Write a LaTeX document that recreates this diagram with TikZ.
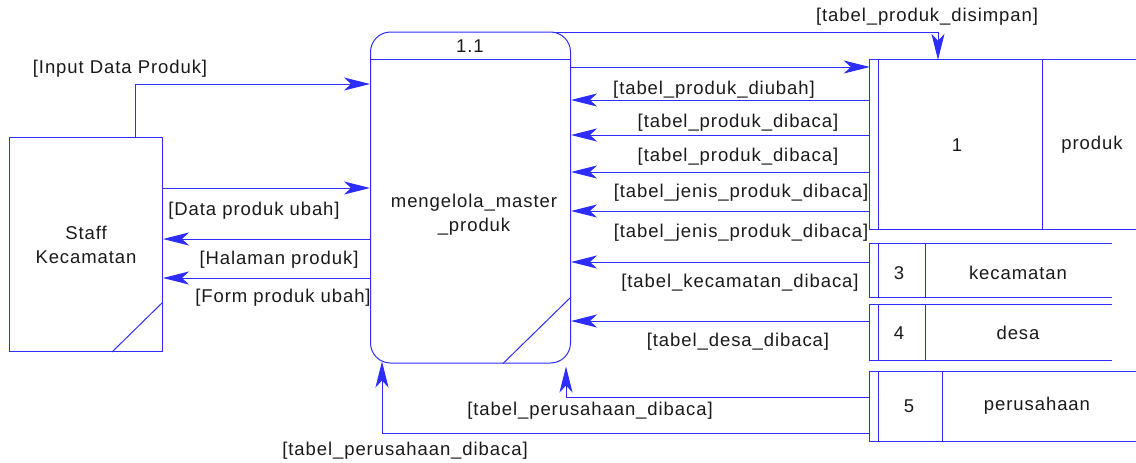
\documentclass[tikz,border=0pt]{standalone}
\usepackage{fontspec}
\setmainfont{Liberation Sans}[LetterSpace=5]
\usepackage{tikz}
\usetikzlibrary{arrows.meta,positioning,calc}

\definecolor{dfdblue}{RGB}{45,45,255}
\definecolor{dfdtext}{RGB}{26,26,26}

\tikzset{
    line/.style={draw=dfdblue, line width=1pt},
    flow/.style={line, -{Stealth[length=26pt, width=13pt, inset=7pt]}},
    lbl/.style={text=dfdtext, inner sep=0pt},
}

\begin{document}
\begin{tikzpicture}[x=1pt, y=-1pt, font=\fontsize{18.5}{24}\selectfont]
        \useasboundingbox (0,0) rectangle (1136,463);

        % External entity
        \node[line, minimum width=153, minimum height=214, align=center, text=dfdtext] (staff) at (86,244.5) {Staff\\Kecamatan};
        \draw[line] ($(staff.south east)+(-51,0)$) -- ($(staff.south east)+(0,-50)$);

        % Process
        \node[line, rounded corners=20, minimum width=200, minimum height=331] (proc) at (470.5,197.5) {};
        \draw[line] ($(proc.north west)+(0,27.5)$) -- ($(proc.north east)+(0,27.5)$);
        \node[lbl] (procid) at (470,46) {1.1};
        \node[lbl, align=center] (procname) at (474,215) {mengelola\_master\\\_produk};
        \draw[line] (proc.south -| 503,0) -- (proc.east |- 0,297);

        % Data stores
        \node[minimum width=266, minimum height=169] (prod) at (1003,144.5) {};
        \node[minimum width=242, minimum height=53] (kec) at (991,270.5) {};
        \node[minimum width=242, minimum height=55] (desa) at (991,332.5) {};
        \node[minimum width=266, minimum height=69] (per) at (1003,406.5) {};
        \foreach \s/\d in {prod/1042, kec/925, desa/925, per/942}
        {
        \draw[line] (\s.north east) -- (\s.north west) -- (\s.south west) -- (\s.south east);
        \draw[line] (\s.north west -| 878,0) -- (\s.south west -| 878,0);
        \draw[line] (\s.north -| \d,0) -- (\s.south -| \d,0);
        }
        \node[lbl] (prodid) at (957,145) {1};
        \node[lbl] (prodname) at (1092,145) {produk};
        \node[lbl] (kecid) at (899,273) {3};
        \node[lbl] (kecname) at (1018,273) {kecamatan};
        \node[lbl] (desaid) at (899,333) {4};
        \node[lbl] (desaname) at (1018,333) {desa};
        \node[lbl] (perid) at (909,406) {5};
        \node[lbl] (pername) at (1037,406) {perusahaan};

        % Flows with the staff
        \draw[flow] (staff.north -| 135,0) |- (proc.west |- 0,84);
        \draw[flow] (staff.east |- 0,188) -- (proc.west |- 0,188);
        \draw[flow] (proc.west |- 0,239) -- (staff.east |- 0,239);
        \draw[flow] (proc.west |- 0,278) -- (staff.east |- 0,278);
        \node[lbl] (tinput) at (120,69) {[Input Data Produk]};
        \node[lbl] (tubah) at (254,211) {[Data produk ubah]};
        \node[lbl] (thalaman) at (279,260) {[Halaman produk]};
        \node[lbl] (tform) at (283,298) {[Form produk ubah]};

        % Flows with the stores
        \draw[flow] ($(proc.north east)+(-17,1)$) -| (prod.north -| 938,0);
        \draw[flow] (proc.east |- 0,67) -- (prod.west |- 0,67);
        \foreach \y in {100,135,172,211}
        \draw[flow] (prod.west |- 0,\y) -- (proc.east |- 0,\y);
        \draw[flow] (kec.west |- 0,262) -- (proc.east |- 0,262);
        \draw[flow] (desa.west |- 0,321) -- (proc.east |- 0,321);
        \draw[flow] (per.west |- 0,397) -| ($(proc.south -| 566,0)+(0,3)$);
        \draw[flow] (per.west |- 0,433) -| ($(proc.south -| 382,0)+(0,-2)$);

        \node[lbl] (tdisimpan) at (927,17) {[tabel\_produk\_disimpan]};
        \node[lbl] (tdiubah) at (714,90) {[tabel\_produk\_diubah]};
        \node[lbl] (tdibaca) at (738,123) {[tabel\_produk\_dibaca]};
        \node[lbl] (tdibacab) at (738,157) {[tabel\_produk\_dibaca]};
        \node[lbl] (tjenis) at (741,193) {[tabel\_jenis\_produk\_dibaca]};
        \node[lbl] (tjenisb) at (741,233) {[tabel\_jenis\_produk\_dibaca]};
        \node[lbl] (tkec) at (740,283) {[tabel\_kecamatan\_dibaca]};
        \node[lbl] (tdesa) at (738,342) {[tabel\_desa\_dibaca]};
        \node[lbl] (tper) at (590,411) {[tabel\_perusahaan\_dibaca]};
        \node[lbl] (tperb) at (405,451) {[tabel\_perusahaan\_dibaca]};

\end{tikzpicture}
\end{document}
